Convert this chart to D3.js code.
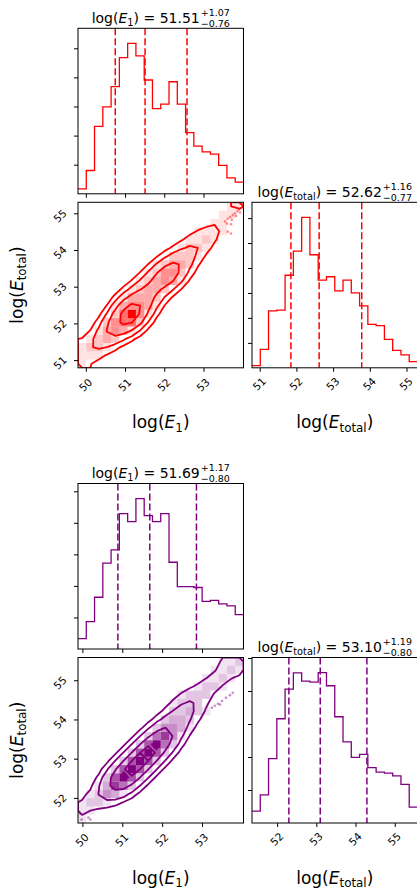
<!DOCTYPE html>
<html>
<head>
<meta charset="utf-8">
<script src="https://cdnjs.cloudflare.com/ajax/libs/d3/7.8.5/d3.min.js"></script>
<style>
body { margin: 0; background: #fff; }
svg { display: block; font-family: "DejaVu Sans", sans-serif; }
</style>
</head>
<body>
<svg width="417" height="891"></svg>
<script>
// ---- red run (top corner) ----
var redE1Range = [49.80, 54.02];
var redTotRange = [50.79, 55.30];
var redE1Counts = [17, 80, 232, 299, 368, 468, 517, 474, 391, 293, 308, 385, 308, 210, 164, 144, 136, 98, 55, 40];
var redTotCounts = [9, 74, 228, 231, 371, 468, 603, 453, 351, 365, 308, 351, 300, 248, 174, 169, 114, 70, 52, 25];
var redE1Quant = [51.51, 0.76, 1.07];
var redTotQuant = [52.62, 0.77, 1.16];
var redE1Ticks = [50, 51, 52, 53];
var redTotTicks = [51, 52, 53, 54, 55];
var redE1CountTicks = [100, 200, 300, 400, 500];
var redTotCountTicks = [100, 200, 300, 400, 500, 600];
// 2d histogram, rows from top (high E_total) to bottom, columns E_1 left to right
var redGrid = [
    "00000000000000000011",
    "00000000000000000110",
    "00000000000000001100",
    "00000000000000111100",
    "00000000000001121000",
    "00000000000012210000",
    "00000000000222100000",
    "00000000012332000000",
    "00000000124420000000",
    "00000001234310000000",
    "00000012332000000000",
    "00000133320000000000",
    "00001344310000000000",
    "00002594100000000000",
    "00024552000000000000",
    "00134310000000000000",
    "01232000000000000000",
    "12210000000000000000",
    "11100000000000000000",
    "10000000000000000000"
];
var redPoints = [[53.55, 54.78], [53.62, 54.85], [53.68, 54.9], [53.72, 54.82], [53.75, 54.95],
    [53.8, 55.0], [53.83, 54.93], [53.86, 55.05], [53.9, 55.1], [53.93, 55.02], [53.96, 55.15],
    [53.99, 55.2], [54.0, 55.27], [53.7, 54.7], [53.6, 54.72], [53.62, 54.5], [53.7, 54.45],
    [49.85, 50.9], [49.9, 50.95], [49.95, 51.0], [50.0, 51.05], [50.05, 51.1], [49.88, 50.85]];

// ---- purple run (bottom corner) ----
var purE1Range = [49.89, 54.04];
var purTotRange = [51.36, 55.58];
var purE1Counts = [33, 87, 164, 272, 314, 429, 404, 477, 423, 404, 429, 275, 198, 198, 195, 151, 154, 143, 137, 109];
var purTotCounts = [36, 85, 195, 316, 406, 455, 430, 427, 456, 416, 322, 246, 199, 208, 168, 154, 151, 143, 117, 48];
var purE1Quant = [51.69, 0.80, 1.17];
var purTotQuant = [53.10, 0.80, 1.19];
var purE1Ticks = [50, 51, 52, 53];
var purTotTicks = [52, 53, 54, 55];
var purE1CountTicks = [100, 200, 300, 400, 500];
var purTotCountTicks = [100, 200, 300, 400, 500];
var purGrid = [
    "00000000000000000112",
    "00000000000000001121",
    "00000000000000011210",
    "00000000000000122100",
    "00000000000012220000",
    "00000000000122200000",
    "00000000000223210000",
    "00000000002332000000",
    "00000000024431000000",
    "00000000257410000000",
    "00000002695200000000",
    "00000026962000000000",
    "00000269620000000000",
    "00002696200000000000",
    "00026962000000000000",
    "00137520000000000000",
    "01243100000000000000",
    "12210000000000000000",
    "11000000000000000000",
    "10000000000000000000"
];
var purPoints = [[53.25, 54.3], [53.32, 54.35], [53.4, 54.4], [53.5, 54.47], [53.6, 54.55],
    [53.7, 54.62], [53.77, 54.68], [53.45, 54.38],
    [49.95, 51.6], [50.0, 51.72], [50.08, 51.65], [50.15, 51.5], [50.2, 51.45], [49.98, 51.45]];

var size = 165.5, gap = 8.5, left = 78;
var svg = d3.select('svg');
svg.append('rect').attr('width', 417).attr('height', 891).attr('fill', '#fff');
var clipId = 0;

function clipTo(g) {
    var id = 'clip' + (clipId++);
    g.append('clipPath').attr('id', id).append('rect').attr('width', size).attr('height', size);
    return 'url(#' + id + ')';
}

function styleAxis(ax, labelShift) {
    ax.select('.domain').remove();
    ax.attr('font-family', 'DejaVu Sans').attr('font-size', 10.5);
    ax.selectAll('.tick line').attr('stroke', '#000');
    ax.selectAll('.tick text')
        .attr('x', null).attr('y', null).attr('dy', null)
        .attr('fill', '#000')
        .attr('text-anchor', 'middle')
        .attr('dominant-baseline', 'central')
        .attr('transform', labelShift + ' rotate(-45)');
}

function frame(g) {
    g.append('rect').attr('width', size).attr('height', size)
        .attr('fill', 'none').attr('stroke', '#000').attr('stroke-width', 1);
}

function mathTitle(g, baseline, sub, q) {
    var fs = 14, ss = 9.5;
    var grp = g.append('g');
    var main = grp.append('text').attr('y', baseline).attr('font-size', fs);
    main.append('tspan').text('log(');
    main.append('tspan').attr('font-style', 'italic').text('E');
    main.append('tspan').attr('font-size', fs * 0.7).attr('dy', fs * 0.22).text(sub);
    main.append('tspan').attr('dy', -fs * 0.22).text(') = ' + q[0].toFixed(2));
    var w = main.node().getComputedTextLength() + 1;
    var sup = grp.append('text').attr('x', w).attr('y', baseline - 6.6)
        .attr('font-size', ss).text('+' + q[2].toFixed(2));
    var low = grp.append('text').attr('x', w).attr('y', baseline + 3.8)
        .attr('font-size', ss).text('\u2212' + q[1].toFixed(2));
    var total = w + Math.max(sup.node().getComputedTextLength(), low.node().getComputedTextLength());
    grp.attr('transform', 'translate(' + (size / 2 - total / 2) + ',0)');
}

function axisLabel(parent, x, y, sub, rotate) {
    var fs = 17;
    var t = parent.append('text').attr('font-size', fs).attr('text-anchor', 'middle')
        .attr('transform', 'translate(' + x + ',' + y + ')' + (rotate ? ' rotate(-90)' : ''));
    t.append('tspan').text('log(');
    t.append('tspan').attr('font-style', 'italic').text('E');
    t.append('tspan').attr('font-size', fs * 0.7).attr('dy', fs * 0.22).text(sub);
    t.append('tspan').attr('dy', -fs * 0.22).text(')');
}

function drawHist(g, range, counts, countTicks, quant, ticks, color, showLabels, sub) {
    var x = d3.scaleLinear().domain(range).range([0, size]);
    var y = d3.scaleLinear().domain([0, 1.1 * d3.max(counts)]).range([size, 0]);
    var w = (range[1] - range[0]) / counts.length;
    var pts = counts.map(function(c, i) { return [range[0] + i * w, c]; });
    pts.push([range[1], counts[counts.length - 1]]);

    var inner = g.append('g').attr('clip-path', clipTo(g));
    inner.append('path')
        .datum(pts)
        .attr('d', d3.line()
            .x(function(d) { return x(d[0]); })
            .y(function(d) { return y(d[1]); })
            .curve(d3.curveStepAfter))
        .attr('fill', 'none')
        .attr('stroke', color)
        .attr('stroke-width', 1.3);

    inner.selectAll('line.q')
        .data([quant[0] - quant[1], quant[0], quant[0] + quant[2]])
        .enter().append('line')
        .attr('x1', function(d) { return x(d); })
        .attr('x2', function(d) { return x(d); })
        .attr('y1', 0).attr('y2', size)
        .attr('stroke', color)
        .attr('stroke-width', 1.5)
        .attr('stroke-dasharray', '7,3');

    var bx = g.append('g').attr('transform', 'translate(0,' + size + ')')
        .call(d3.axisBottom(x).tickValues(ticks).tickSize(4).tickPadding(0)
            .tickFormat(showLabels ? d3.format('d') : ''));
    styleAxis(bx, 'translate(-1,16)');
    var ly = g.append('g').call(d3.axisLeft(y).tickValues(countTicks).tickSize(4).tickFormat(''));
    styleAxis(ly, '');
    frame(g);
    mathTitle(g, -5.5, sub, quant);
}

function drawJoint(g, xr, yr, grid, points, color, xTicks, yTicks) {
    var x = d3.scaleLinear().domain(xr).range([0, size]);
    var y = d3.scaleLinear().domain(yr).range([size, 0]);
    var n = grid.length;
    var dx = (xr[1] - xr[0]) / n, dy = (yr[1] - yr[0]) / n;
    var values = [];
    grid.forEach(function(row) {
        row.split('').forEach(function(ch) { values.push(+ch); });
    });
    var vmax = d3.max(values);

    // smoothed copy for the contour levels (levels hold 0.5, 1, 1.5, 2 sigma of the mass)
    var smooth = values.slice();
    d3.blur2({data: smooth, width: n, height: n}, 0.4);
    var sorted = smooth.slice().sort(function(a, b) { return b - a; });
    var total = d3.sum(sorted);
    var cum = Array.from(d3.cumsum(sorted));
    var levels = [2, 1.5, 1, 0.5].map(function(s) { return 1 - Math.exp(-0.5 * s * s); });
    var thresholds = levels.map(function(l) {
        var i = d3.bisectRight(cum, l * total) - 1;
        return sorted[Math.max(i, 0)];
    });
    var contours = d3.contours().size([n, n]).thresholds(thresholds)(smooth);
    var proj = d3.geoTransform({
        point: function(px, py) {
            this.stream.point(x(xr[0] + px * dx), y(yr[1] - py * dy));
        }
    });
    var path = d3.geoPath(proj);

    var inner = g.append('g').attr('clip-path', clipTo(g));

    inner.selectAll('circle')
        .data(points)
        .enter().append('circle')
        .attr('cx', function(d) { return x(d[0]); })
        .attr('cy', function(d) { return y(d[1]); })
        .attr('r', 1.3)
        .attr('fill', color)
        .attr('fill-opacity', 0.45);

    inner.append('path')
        .datum(contours[0])
        .attr('d', path)
        .attr('fill', '#fff');

    var cells = values.map(function(v, i) {
        return {v: v, c: i % n, r: Math.floor(i / n)};
    }).filter(function(d) { return d.v > 0; });

    inner.selectAll('rect.cell')
        .data(cells)
        .enter().append('rect')
        .attr('class', 'cell')
        .attr('x', function(d) { return x(xr[0] + d.c * dx); })
        .attr('y', function(d) { return y(yr[1] - d.r * dy); })
        .attr('width', x(xr[0] + dx) - x(xr[0]))
        .attr('height', y(yr[1] - dy) - y(yr[1]))
        .attr('fill', color)
        .attr('fill-opacity', function(d) { return d.v / vmax; });

    inner.selectAll('path.contour')
        .data(contours)
        .enter().append('path')
        .attr('class', 'contour')
        .attr('d', path)
        .attr('fill', 'none')
        .attr('stroke', color)
        .attr('stroke-width', 1.8)
        .attr('stroke-linejoin', 'round');

    var bx = g.append('g').attr('transform', 'translate(0,' + size + ')')
        .call(d3.axisBottom(x).tickValues(xTicks).tickSize(4).tickFormat(d3.format('d')));
    styleAxis(bx, 'translate(-1,17)');
    var ly = g.append('g')
        .call(d3.axisLeft(y).tickValues(yTicks).tickSize(4).tickFormat(d3.format('d')));
    styleAxis(ly, 'translate(-18,2)');
    frame(g);
}

function drawCorner(top, c) {
    var right = left + size + gap;
    var jointTop = top + size + gap;
    drawHist(svg.append('g').attr('transform', 'translate(' + left + ',' + top + ')'),
        c.e1Range, c.e1Counts, c.e1CountTicks, c.e1Quant, c.e1Ticks, c.color, false, '1');
    drawJoint(svg.append('g').attr('transform', 'translate(' + left + ',' + jointTop + ')'),
        c.e1Range, c.totRange, c.grid, c.points, c.color, c.e1Ticks, c.totTicks);
    drawHist(svg.append('g').attr('transform', 'translate(' + right + ',' + jointTop + ')'),
        c.totRange, c.totCounts, c.totCountTicks, c.totQuant, c.totTicks, c.color, true, 'total');

    var labelY = jointTop + size + 60.5;
    axisLabel(svg, left + size / 2, labelY, '1', false);
    axisLabel(svg, right + size / 2, labelY, 'total', false);
    axisLabel(svg, 22.5, jointTop + size / 2, 'total', true);
}

drawCorner(28.3, {
    color: '#ff0000', e1Range: redE1Range, totRange: redTotRange,
    e1Counts: redE1Counts, totCounts: redTotCounts, e1Quant: redE1Quant, totQuant: redTotQuant,
    e1Ticks: redE1Ticks, totTicks: redTotTicks, e1CountTicks: redE1CountTicks,
    totCountTicks: redTotCountTicks, grid: redGrid, points: redPoints
});

drawCorner(483.5, {
    color: '#800080', e1Range: purE1Range, totRange: purTotRange,
    e1Counts: purE1Counts, totCounts: purTotCounts, e1Quant: purE1Quant, totQuant: purTotQuant,
    e1Ticks: purE1Ticks, totTicks: purTotTicks, e1CountTicks: purE1CountTicks,
    totCountTicks: purTotCountTicks, grid: purGrid, points: purPoints
});
</script>
</body>
</html>
